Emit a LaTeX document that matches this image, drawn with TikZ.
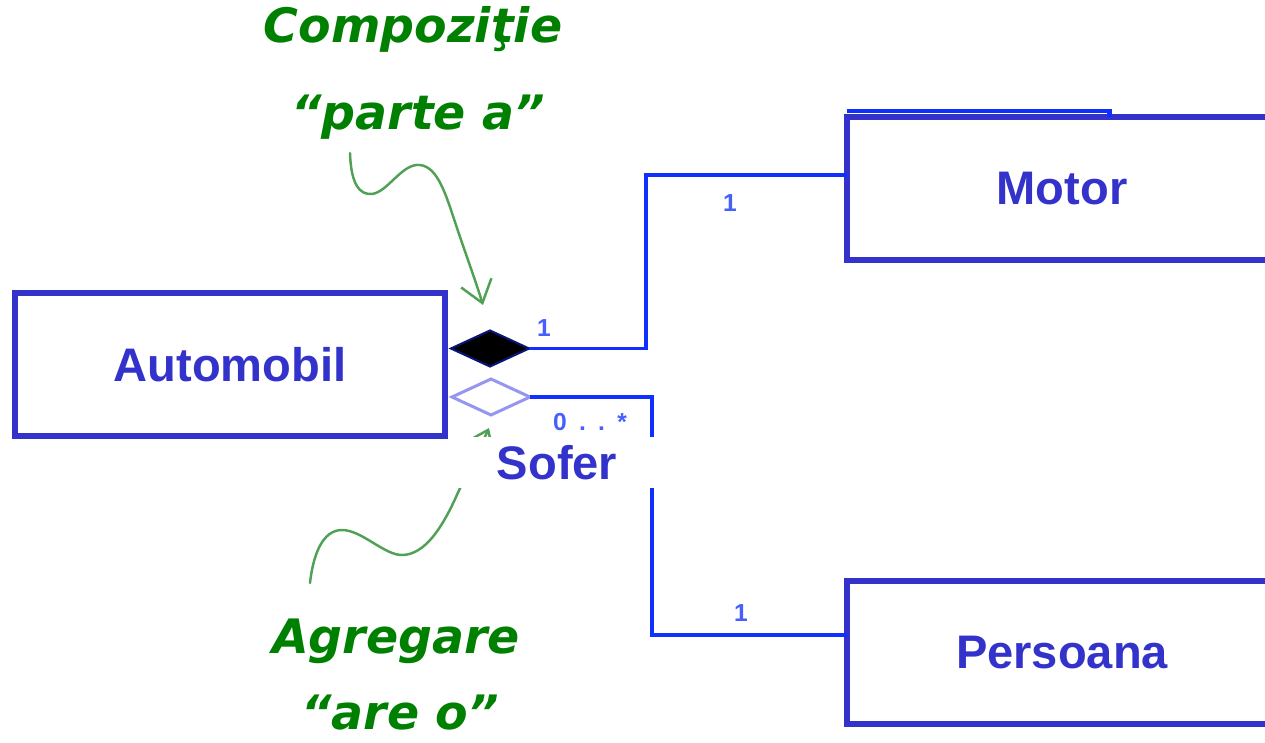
\documentclass[tikz,border=0pt]{standalone}
\usepackage{fontspec}
\setmainfont{Liberation Sans}
\newfontfamily\notefont{DejaVu Sans}
\usetikzlibrary{shapes.geometric,arrows.meta,calc}

\definecolor{boxblue}{RGB}{51,51,204}
\definecolor{linkblue}{RGB}{16,48,255}
\definecolor{multblue}{RGB}{70,95,255}
\definecolor{noteGreen}{RGB}{0,128,0}
\definecolor{curveGreen}{RGB}{80,160,85}
\definecolor{hollowBlue}{RGB}{150,150,240}

\begin{document}
\begin{tikzpicture}[x=0.02cm,y=-0.02cm,
  classbox/.style={draw=boxblue, line width=0.12cm, outer sep=0pt, inner sep=0pt,
    minimum width=8.62cm, minimum height=2.86cm, text=boxblue,
    font=\fontsize{26.8}{32}\selectfont\bfseries},
  conn/.style={draw=linkblue, line width=0.08cm},
  mult/.style={text=multblue, font=\fontsize{14}{16}\selectfont\bfseries, inner sep=0pt},
  note/.style={text=noteGreen, font=\notefont\fontsize{27}{31}\selectfont\bfseries\itshape,
    inner sep=0pt, anchor=base},
  hint/.style={draw=curveGreen, line width=1.4pt, line cap=round,
    -{Straight Barb[length=12pt,width=18pt]}},
  rhomb/.style={diamond, inner sep=0pt, outer sep=0pt, minimum width=1.56cm, minimum height=0.72cm}
]
\useasboundingbox (0,0) rectangle (1265,743);
\clip (0,0) rectangle (1265,743);

% classes
\node[classbox] (auto) at (230,364.5) {Automobil};
\node[classbox] (motor) at (1062,188.5) {\raisebox{-1.5pt}{Motor}};
\node[classbox] (pers) at (1062,652.5) {\raisebox{-1.5pt}{Persoana}};

% second top edge of the Motor class
\draw[draw=linkblue, line width=0.09cm]
  ($(motor.north west)+(0,-6)$) -- ($(motor.north west)+(263,-6)$) -- ($(motor.north west)+(263,0)$);

% association ends
\node[rhomb, fill=black, draw=linkblue!45!black, line width=1.2pt] (cd) at (490,348.5) {};
\node[rhomb, draw=hollowBlue, line width=0.06cm, fill=white] (ad) at (491,397) {};

% composition: Automobil -- Motor
\coordinate (compbend) at (646,175);
\draw[conn] (cd.east) -| (compbend) -- (compbend -| motor.west);

% aggregation: Automobil -- Persoana
\coordinate (aggbend) at (652,635);
\draw[conn] (ad.east) -| (aggbend) -- (aggbend -| pers.west);

% multiplicities
\node[mult] (m1) at (544,328) {1};
\node[mult] (m2) at (730,203) {1};
\node[mult] (m3) at (741,613) {1};
\node[mult] (m4) at (590,422) {0\hspace{7pt}.\hspace{7pt}.\hspace{7pt}*};

% hand-drawn pointers
\coordinate (compstart) at (350,153);
\coordinate (comptip) at (483,305);
\draw[hint] (compstart) .. controls (351,185) and (360,195) .. (372,194)
  .. controls (388,192) and (402,163) .. (420,165)
  .. controls (438,167) and (446,195) .. (456,225)
  .. controls (466,255) and (476,282) .. (comptip);

\coordinate (aggstart) at (310,583);
\coordinate (aggtip) at (489,428);
\draw[hint] (aggstart) .. controls (313,556) and (322,530) .. (342,530)
  .. controls (362,530) and (385,556) .. (403,555)
  .. controls (425,554) and (442,528) .. (456,497)
  .. controls (465,477) and (480,448) .. (aggtip);

% role name, set on a white patch
\node[fill=white, inner sep=0pt, minimum width=4cm, minimum height=1.02cm,
  text=boxblue, font=\fontsize{26.8}{32}\selectfont\bfseries] (sofer) at (557,462.5) {Sofer};

% notes
\node[note] (compname) at (413,43) {Compoziţie};
\node[note] (compverb) at (418,130) {“parte a”};
\node[note] (aggname) at (396,653) {Agregare};
\node[note] (aggverb) at (400,729) {“are o”};
\end{tikzpicture}
\end{document}
